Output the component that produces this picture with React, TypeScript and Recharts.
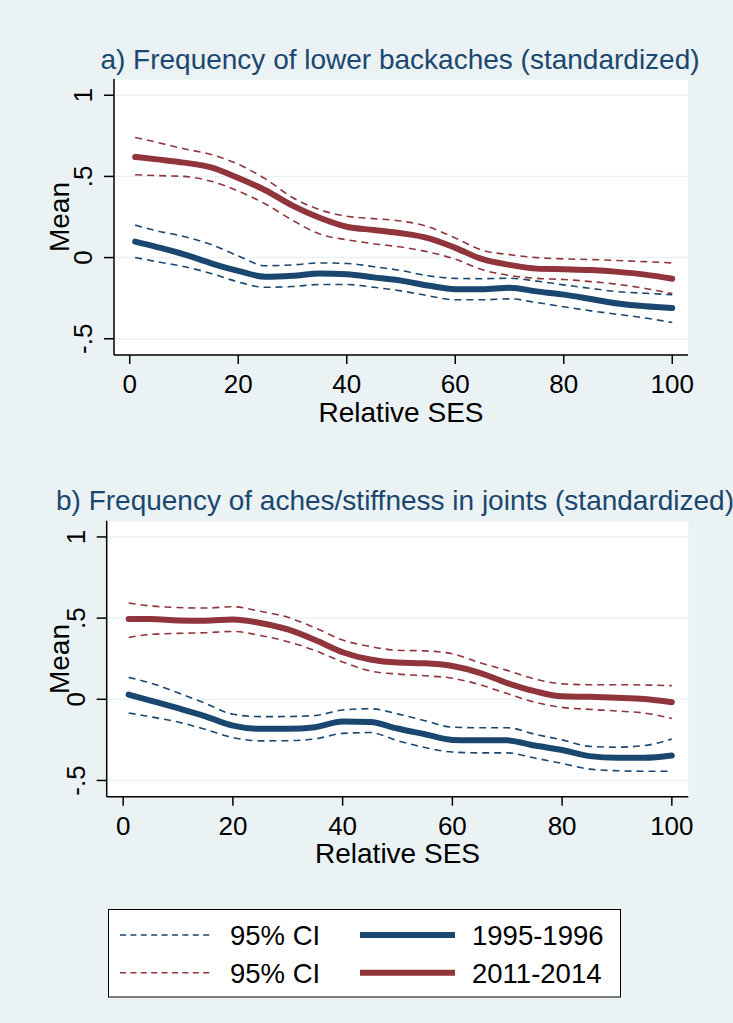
import React from "react"
import { LineChart, Line, XAxis, YAxis, CartesianGrid } from "recharts"

const BLUE = "#1A476F"
const RED = "#90353B"
const BG = "#EAF2F3"
const FONT = "'Liberation Sans', Arial, sans-serif"

// relative SES points
const ses = [1, 5, 10, 15, 20, 25, 30, 35, 40, 45, 50, 55, 60, 65, 70, 75, 80, 85, 90, 95, 100]

// a) lower backaches
const aBlueMean = [0.098, 0.065, 0.02, -0.035, -0.082, -0.118, -0.112, -0.098, -0.103, -0.122, -0.142, -0.172, -0.195, -0.195, -0.186, -0.208, -0.228, -0.255, -0.283, -0.3, -0.31]
const aBlueHi = [0.2, 0.165, 0.13, 0.08, 0.01, -0.05, -0.045, -0.033, -0.036, -0.056, -0.08, -0.112, -0.128, -0.13, -0.127, -0.145, -0.168, -0.19, -0.21, -0.22, -0.228]
const aBlueLo = [0, -0.025, -0.055, -0.098, -0.15, -0.183, -0.178, -0.166, -0.166, -0.183, -0.205, -0.235, -0.26, -0.26, -0.254, -0.277, -0.303, -0.328, -0.35, -0.372, -0.4]
const aRedMean = [0.62, 0.605, 0.585, 0.555, 0.49, 0.415, 0.32, 0.245, 0.19, 0.17, 0.15, 0.12, 0.06, -0.01, -0.045, -0.068, -0.072, -0.077, -0.088, -0.105, -0.13]
const aRedHi = [0.74, 0.71, 0.67, 0.635, 0.575, 0.485, 0.37, 0.295, 0.255, 0.24, 0.225, 0.19, 0.12, 0.045, 0.018, 0, -0.008, -0.012, -0.018, -0.025, -0.033]
const aRedLo = [0.51, 0.505, 0.5, 0.47, 0.41, 0.33, 0.23, 0.145, 0.11, 0.085, 0.065, 0.035, -0.01, -0.075, -0.11, -0.128, -0.135, -0.148, -0.165, -0.19, -0.222]

// b) aches/stiffness in joints
const bBlueMean = [0.029, -0.008, -0.055, -0.105, -0.162, -0.182, -0.182, -0.172, -0.137, -0.14, -0.18, -0.215, -0.25, -0.252, -0.253, -0.285, -0.312, -0.35, -0.36, -0.36, -0.346]
const bBlueHi = [0.135, 0.1, 0.04, -0.025, -0.092, -0.107, -0.106, -0.1, -0.066, -0.058, -0.09, -0.132, -0.172, -0.175, -0.175, -0.215, -0.25, -0.29, -0.295, -0.285, -0.245]
const bBlueLo = [-0.084, -0.108, -0.14, -0.185, -0.236, -0.256, -0.255, -0.244, -0.21, -0.205, -0.255, -0.297, -0.325, -0.33, -0.33, -0.362, -0.395, -0.43, -0.44, -0.443, -0.443]
const bRedMean = [0.494, 0.494, 0.486, 0.484, 0.492, 0.47, 0.43, 0.365, 0.29, 0.245, 0.226, 0.222, 0.205, 0.163, 0.1, 0.05, 0.018, 0.015, 0.01, 0.002, -0.018]
const bRedHi = [0.593, 0.575, 0.565, 0.562, 0.57, 0.542, 0.505, 0.44, 0.365, 0.325, 0.302, 0.298, 0.28, 0.225, 0.178, 0.125, 0.095, 0.09, 0.09, 0.088, 0.084]
const bRedLo = [0.381, 0.4, 0.406, 0.41, 0.418, 0.393, 0.355, 0.3, 0.23, 0.175, 0.155, 0.145, 0.13, 0.09, 0.035, -0.018, -0.05, -0.062, -0.072, -0.085, -0.118]

const xTicks = [0, 20, 40, 60, 80, 100]
const yTicks = [-0.5, 0, 0.5, 1]

const legendRows = [
  { ci: "95% CI", period: "1995-1996", color: BLUE },
  { ci: "95% CI", period: "2011-2014", color: RED },
]

function buildRows(bm: number[], bh: number[], bl: number[], rm: number[], rh: number[], rl: number[]) {
  return ses.map((x, i) => ({
    x,
    blueMean: bm[i],
    blueHi: bh[i],
    blueLo: bl[i],
    redMean: rm[i],
    redHi: rh[i],
    redLo: rl[i],
  }))
}

const dataA = buildRows(aBlueMean, aBlueHi, aBlueLo, aRedMean, aRedHi, aRedLo)
const dataB = buildRows(bBlueMean, bBlueHi, bBlueLo, bRedMean, bRedHi, bRedLo)

const fmtY = (v: number) => {
  if (v === 0) return "0"
  return String(v).replace(/^(-?)0\./, "$1.")
}

const YTick = (props: any) => {
  const { x, y, payload } = props
  return (
    <text
      x={x}
      y={y}
      transform={`rotate(-90 ${x} ${y})`}
      textAnchor="middle"
      fontSize={26}
      fontFamily={FONT}
      fill="#000"
    >
      {fmtY(payload.value)}
    </text>
  )
}

type PanelProps = {
  data: any[]
  top: number
  left: number
  plotTop: number
  plotBottom: number
  right: number
  xMin: number
  xMax: number
}

function Panel({ data, top, left, plotTop, plotBottom, right, xMin, xMax }: PanelProps) {
  const h = 440
  const yW = 40
  const xH = 40
  return (
    <div style={{ position: "absolute", left: 0, top }}>
      <LineChart
        width={733}
        height={h}
        data={data}
        margin={{ top: plotTop, right: 733 - right, bottom: h - plotBottom - xH, left: left - yW }}
      >
        <CartesianGrid vertical={false} stroke={BG} strokeWidth={1.5} fill="#fff" />
        <XAxis
          type="number"
          dataKey="x"
          domain={[xMin, xMax]}
          ticks={xTicks}
          allowDataOverflow
          height={xH}
          tickSize={9}
          tickMargin={11}
          stroke="#000"
          strokeWidth={1.5}
          tick={{ fontSize: 26, fill: "#000", fontFamily: FONT }}
        />
        <YAxis
          type="number"
          domain={[-0.6, 1.1]}
          ticks={yTicks}
          allowDataOverflow
          width={yW}
          tickSize={10}
          tickMargin={12}
          stroke="#000"
          strokeWidth={1.5}
          tick={<YTick />}
        />
        <Line dataKey="blueHi" type="monotone" stroke={BLUE} strokeWidth={1.6} strokeDasharray="7 5" dot={false} isAnimationActive={false} />
        <Line dataKey="blueLo" type="monotone" stroke={BLUE} strokeWidth={1.6} strokeDasharray="7 5" dot={false} isAnimationActive={false} />
        <Line dataKey="redHi" type="monotone" stroke={RED} strokeWidth={1.6} strokeDasharray="7 5" dot={false} isAnimationActive={false} />
        <Line dataKey="redLo" type="monotone" stroke={RED} strokeWidth={1.6} strokeDasharray="7 5" dot={false} isAnimationActive={false} />
        <Line dataKey="blueMean" type="monotone" stroke={BLUE} strokeWidth={6} strokeLinecap="round" dot={false} isAnimationActive={false} />
        <Line dataKey="redMean" type="monotone" stroke={RED} strokeWidth={6} strokeLinecap="round" dot={false} isAnimationActive={false} />
      </LineChart>
    </div>
  )
}

const BIG = 28
const LH = 20
const textBase: React.CSSProperties = {
  position: "absolute",
  fontFamily: FONT,
  fontSize: BIG,
  lineHeight: `${LH}px`,
  whiteSpace: "nowrap",
}
// distance from the top of the (tight) line box to the baseline
const ASC = (LH - BIG * 1.117) / 2 + BIG * 0.905

const Title = ({ text, cx, baseline }: { text: string; cx: number; baseline: number }) => (
  <div style={{ ...textBase, left: cx, top: baseline - ASC, transform: "translateX(-50%)", color: BLUE }}>{text}</div>
)

const XLabel = ({ cx, baseline }: { cx: number; baseline: number }) => (
  <div style={{ ...textBase, left: cx, top: baseline - ASC, transform: "translateX(-50%)", color: "#000" }}>Relative SES</div>
)

const YLabel = ({ baselineX, cy }: { baselineX: number; cy: number }) => (
  <div
    style={{
      ...textBase,
      left: baselineX - (ASC - LH / 2),
      top: cy,
      transform: "translate(-50%, -50%) rotate(-90deg)",
      color: "#000",
    }}
  >
    Mean
  </div>
)

function LegendBox() {
  const rowY = [935, 972.7]
  return (
    <svg width={733} height={120} style={{ position: "absolute", left: 0, top: 900 }}>
      <rect x={108.5} y={9.5} width={512} height={87.5} fill="#fff" stroke="#000" strokeWidth={1} />
      {legendRows.map((r, i) => {
        const y = rowY[i] - 900
        return (
          <g key={i}>
            <line x1={120} x2={213} y1={y} y2={y} stroke={r.color} strokeWidth={1.6} strokeDasharray="6 4.4" />
            <text x={230} y={y + 10} fontSize={27.5} fontFamily={FONT} fill="#000">{r.ci}</text>
            <line x1={360} x2={455} y1={y} y2={y} stroke={r.color} strokeWidth={6} />
            <text x={472} y={y + 10} fontSize={27.5} fontFamily={FONT} fill="#000">{r.period}</text>
          </g>
        )
      })}
    </svg>
  )
}

export default function App() {
  return (
    <div style={{ position: "absolute", left: 0, top: 0, width: 733, height: 1023, background: BG, overflow: "hidden" }}>
      <Panel data={dataA} top={0} left={114} plotTop={79} plotBottom={355} right={688} xMin={-2.9} xMax={102.9} />
      <Panel data={dataB} top={440} left={106.7} plotTop={80.7} plotBottom={356.7} right={688.3} xMin={-3} xMax={103} />
      <Title text="a) Frequency of lower backaches (standardized)" cx={400} baseline={69.3} />
      <Title text="b) Frequency of aches/stiffness in joints (standardized)" cx={395} baseline={510.7} />
      <YLabel baselineX={70} cy={217} />
      <YLabel baselineX={70} cy={659} />
      <XLabel cx={401} baseline={423} />
      <XLabel cx={397.5} baseline={864} />
      <LegendBox />
    </div>
  )
}
